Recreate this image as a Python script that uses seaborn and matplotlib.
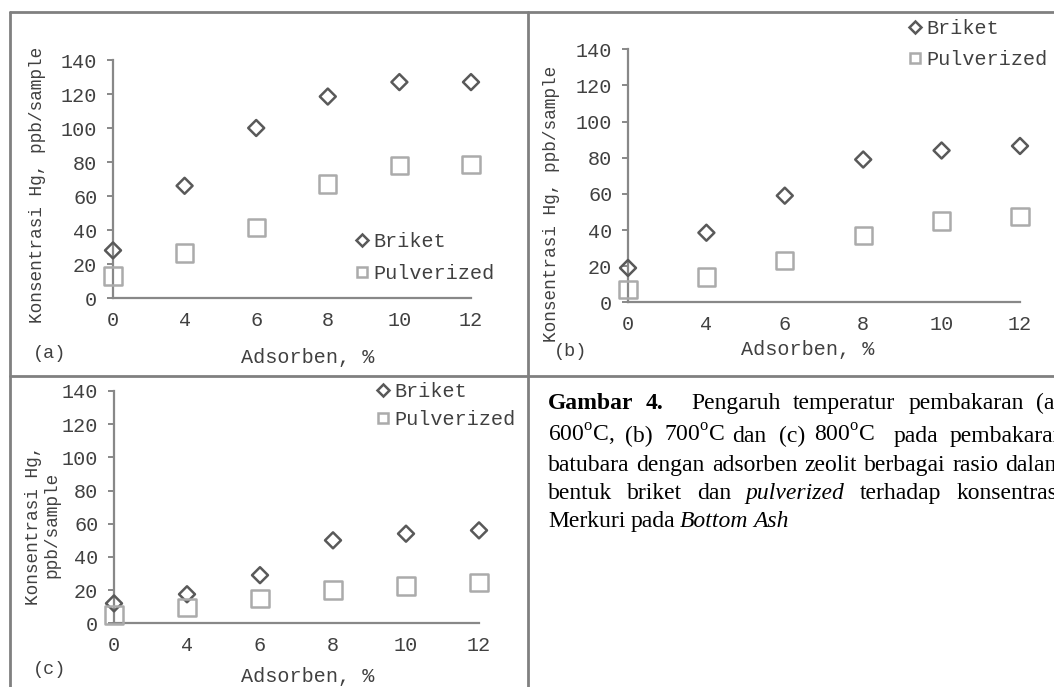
import seaborn as sns
import matplotlib.pyplot as plt
from matplotlib.lines import Line2D

sns.set_theme(style="white")
plt.rcParams['font.family'] = ['Liberation Mono', 'DejaVu Sans']
plt.rcParams['mathtext.fontset'] = 'custom'
plt.rcParams['mathtext.rm'] = 'Liberation Serif'

# data (Adsorben %, Konsentrasi Hg ppb/sample)
adsorben = ['0', '4', '6', '8', '10', '12']
briket_a = [28, 66, 100, 118.5, 127, 127]
pulv_a = [13, 26.5, 41.5, 67, 78, 78.5]
briket_b = [19, 38.5, 59, 79, 84, 86.5]
pulv_b = [7, 14, 23, 37, 45, 47.5]
briket_c = [12, 17.5, 29, 50, 54, 56]
pulv_c = [5, 9.5, 15, 20, 22.5, 24.5]
series_names = ['Briket', 'Pulverized']

W, H = 1054, 687
fig = plt.figure(figsize=(W / 100, H / 100), dpi=100)

dark = '#595959'
light = '#ababab'
axcol = '#888888'
txt = '#404040'


def rect(l, t, r, b):
    return [l / W, 1 - b / H, (r - l) / W, (b - t) / H]


def fx(x):
    return x / W


def fy(y):
    return 1 - y / H


def panel(box, briket, pulv, ylab, ylab_xy, xlab_xy, leg_xy, leg_space):
    ax = fig.add_axes(rect(*box))
    sns.scatterplot(x=adsorben, y=briket, ax=ax, marker='D', s=66, color=dark,
                    edgecolor=dark, linewidth=1.8, clip_on=False, zorder=3)
    ax.collections[-1].set_facecolor('none')
    sns.scatterplot(x=adsorben, y=pulv, ax=ax, marker='s', s=155, color=light,
                    edgecolor=light, linewidth=1.8, clip_on=False, zorder=3)
    ax.collections[-1].set_facecolor('none')
    ax.set_xlim(0, 5)
    ax.set_ylim(0, 140)
    ax.set_yticks(range(0, 141, 20))
    sns.despine(ax=ax)
    for s in ['left', 'bottom']:
        ax.spines[s].set_color(axcol)
        ax.spines[s].set_linewidth(1.6)
    ax.tick_params(axis='y', length=4.3, width=1.4, color=axcol, pad=7,
                   labelsize=14.5, labelcolor=txt, left=True)
    ax.tick_params(axis='x', length=0, pad=9.5, labelsize=14.5, labelcolor=txt)
    ax.set_ylabel(ylab, fontsize=12.8, color=txt, linespacing=1.1)
    ax.yaxis.label.set_va('center')
    ax.yaxis.set_label_coords(*ylab_xy)
    ax.set_xlabel('Adsorben, %', fontsize=14.5, color=txt)
    ax.xaxis.label.set_va('center')
    ax.xaxis.set_label_coords(*xlab_xy)
    handles = [
        Line2D([], [], ls='', marker='D', ms=6, mfc='none', mec=dark, mew=1.8),
        Line2D([], [], ls='', marker='s', ms=7.5, mfc='none', mec=light, mew=1.8),
    ]
    fig.legend(handles, series_names, loc='center left',
               bbox_to_anchor=(fx(leg_xy[0]), fy(leg_xy[1])),
               frameon=False, fontsize=14.5, handlelength=0.5,
               handletextpad=0.3, borderpad=0, borderaxespad=0,
               labelspacing=leg_space, labelcolor=txt)
    return ax


panel((113, 60, 471, 298), briket_a, pulv_a, 'Konsentrasi Hg, ppb/sample',
      (-0.212, 0.475), (0.543, -0.252), (357, 257.5), 0.68)
panel((628, 49.3, 1020, 302.3), briket_b, pulv_b, 'Konsentrasi Hg, ppb/sample',
      (-0.194, 0.389), (0.459, -0.185), (910, 44), 0.62)
panel((114, 391, 479, 623.3), briket_c, pulv_c, 'Konsentrasi Hg,\nppb/sample',
      (-0.196, 0.423), (0.53, -0.231), (378, 405.5), 0.47)

for lab, x, y in [('(a)', 33, 354), ('(b)', 554, 352), ('(c)', 33, 670)]:
    fig.text(fx(x), fy(y), lab, fontsize=13.3, color=txt, ha='left', va='center')

# table borders
border = dict(color='#808080', lw=2, transform=fig.transFigure)
fig.add_artist(Line2D([fx(10), fx(10)], [fy(12), fy(H)], **border))
fig.add_artist(Line2D([fx(527.5), fx(527.5)], [fy(12), fy(H)], **border))
fig.add_artist(Line2D([fx(10), fx(W)], [fy(12), fy(12)], **border))
fig.add_artist(Line2D([fx(10), fx(W)], [fy(376), fy(376)], **border))

# caption (justified lines, word by word)
cap = dict(family='Liberation Serif', fontsize=17, color='black', va='baseline', ha='left')
deg = '$^{\\mathrm{o}}$'
renderer = fig.canvas.get_renderer()


def placed(yb, words):
    for w, x, weight, style in words:
        fig.text(fx(x), fy(yb), w, fontweight=weight, fontstyle=style, **cap)


def flowing(yb, words, x0, gap):
    x = x0
    for w, style in words:
        t = fig.text(fx(x), fy(yb), w, fontstyle=style, **cap)
        x += t.get_window_extent(renderer).width + gap


placed(409, [('Gambar', 548, 'bold', 'normal'), ('4.', 646, 'bold', 'normal'),
             ('Pengaruh', 691, 'normal', 'normal'), ('temperatur', 793, 'normal', 'normal'),
             ('pembakaran', 909, 'normal', 'normal'), ('(a)', 1036, 'normal', 'normal')])
placed(442, [('600' + deg + 'C,', 548, 'normal', 'normal'), ('(b)', 625, 'normal', 'normal'),
             ('700' + deg + 'C', 664, 'normal', 'normal'), ('dan', 732, 'normal', 'normal'),
             ('(c)', 779, 'normal', 'normal'), ('800' + deg + 'C', 814, 'normal', 'normal'),
             ('pada', 894, 'normal', 'normal'), ('pembakaran', 950, 'normal', 'normal')])
flowing(471, [(w, 'normal') for w in
              'batubara dengan adsorben zeolit berbagai rasio dalam'.split()], 548, 7)
placed(499, [('bentuk', 548, 'normal', 'normal'), ('briket', 627, 'normal', 'normal'),
             ('dan', 697, 'normal', 'normal'), ('pulverized', 745, 'normal', 'italic'),
             ('terhadap', 860, 'normal', 'normal'), ('konsentrasi', 957, 'normal', 'normal')])
flowing(527, [('Merkuri', 'normal'), ('pada', 'normal'), ('Bottom', 'italic'), ('Ash', 'italic')],
        548, 5)

fig.savefig('out.png', dpi=100, facecolor='white')
